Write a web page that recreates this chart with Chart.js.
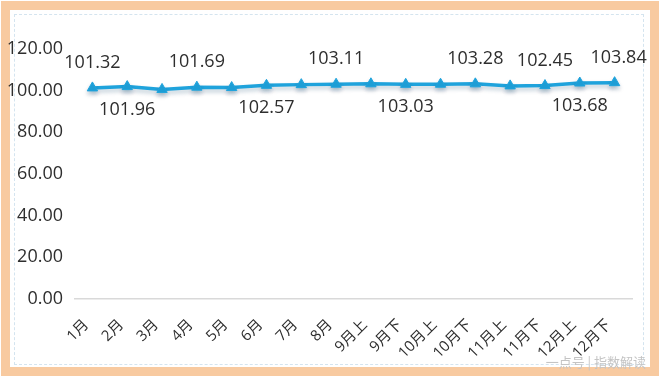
<!DOCTYPE html>
<html>
<head>
<meta charset="utf-8">
<script src="https://cdn.jsdelivr.net/npm/chart.js@4"></script>
<style>
  html, body { margin: 0; padding: 0; background: #fff; }
  #wrap { position: relative; width: 660px; height: 378px; overflow: hidden; }
  #frame {
    position: absolute; left: 1px; top: 1px; width: 640px; height: 357px;
    border: 9px solid #f8caa0; box-sizing: content-box;
  }
  #inner {
    position: absolute; left: 14px; top: 14px; width: 628px; height: 349px;
    border: 1px dashed #d4e4ef;
  }
  #mark {
    position: absolute; right: 14px; bottom: 7px;
    font: 13px "Noto Sans CJK SC", sans-serif; color: #c4c4c4;
  }
  canvas { position: absolute; left: 0; top: 0; }
</style>
</head>
<body>
<div id="wrap">
  <div id="frame"></div>
  <div id="inner"></div>
  <canvas id="c" width="660" height="378"></canvas>
  <div id="mark">一点号 | 指数解读</div>
</div>
<script>
// ─── DATA ─────────────────────────────────────────────────────
const categories = ['1月', '2月', '3月', '4月', '5月', '6月', '7月', '8月',
                    '9月上', '9月下', '10月上', '10月下', '11月上', '11月下', '12月上', '12月下'];
const values = [101.32, 101.96, 100.6, 101.69, 101.5, 102.57, 102.9, 103.11,
                103.3, 103.03, 103.1, 103.28, 102.3, 102.45, 103.68, 103.84];
const yTicks = [0, 20, 40, 60, 80, 100, 120];
// which points carry a value label, and whether it sits above (1) or below (-1)
const labelIdx  = [0, 1, 3, 5, 7, 9, 11, 13, 14, 15];
const labelSide = [1, -1, 1, -1, 1, -1, 1, 1, -1, 1];

const FONT = '"Open Sans", "Noto Sans CJK SC", sans-serif';
const TEXT = '#2e2e2e';
const BLUE = '#1fa3dc';

// ─── PLUGINS ──────────────────────────────────────────────────
const shadow = {
    id: 'shadow',
    beforeDatasetDraw(chart) {
        const ctx = chart.ctx;
        ctx.save();
        ctx.shadowColor = 'rgba(0,60,100,0.25)';
        ctx.shadowBlur = 4;
        ctx.shadowOffsetY = 3;
    },
    afterDatasetDraw(chart) { chart.ctx.restore(); }
};

const valueLabels = {
    id: 'valueLabels',
    afterDatasetsDraw(chart) {
        const ctx = chart.ctx;
        const meta = chart.getDatasetMeta(0);
        ctx.save();
        ctx.font = '18px ' + FONT;
        ctx.fillStyle = TEXT;
        ctx.textAlign = 'center';
        ctx.textBaseline = 'middle';
        labelIdx.forEach((i, k) => {
            const p = meta.data[i];
            const y = labelSide[k] > 0 ? p.y - 25 : p.y + 23;
            ctx.fillText(values[i].toFixed(2), p.x + (i === 15 ? 4 : 0), y);
        });
        ctx.restore();
    }
};

// ─── CHART ────────────────────────────────────────────────────
new Chart(document.getElementById('c'), {
    type: 'line',
    data: {
        labels: categories,
        datasets: [{
            data: values,
            borderColor: BLUE,
            backgroundColor: BLUE,
            borderWidth: 3.5,
            pointStyle: 'triangle',
            pointRadius: 6,
            pointBorderWidth: 1,
            tension: 0
        }]
    },
    options: {
        responsive: false,
        animation: false,
        layout: { padding: { top: 49, right: 28, left: 0, bottom: 0 } },
        plugins: { legend: { display: false }, tooltip: { enabled: false } },
        scales: {
            x: {
                offset: true,
                grid: { display: false },
                border: { display: true, color: '#d9d9d9', width: 1.5 },
                ticks: {
                    color: TEXT, font: { size: 15, family: FONT },
                    minRotation: 45, maxRotation: 45, autoSkip: false,
                    padding: 9, labelOffset: -6
                },
                afterFit(s) { s.height = 79; }
            },
            y: {
                min: 0, max: 120,
                grid: { display: false },
                border: { display: false },
                afterBuildTicks(s) { s.ticks = yTicks.map(v => ({ value: v })); },
                ticks: {
                    color: TEXT, font: { size: 18, family: FONT }, padding: 4,
                    callback: v => v.toFixed(2)
                },
                afterFit(s) { s.width = 75; }
            }
        }
    },
    plugins: [shadow, valueLabels]
});
</script>
</body>
</html>
